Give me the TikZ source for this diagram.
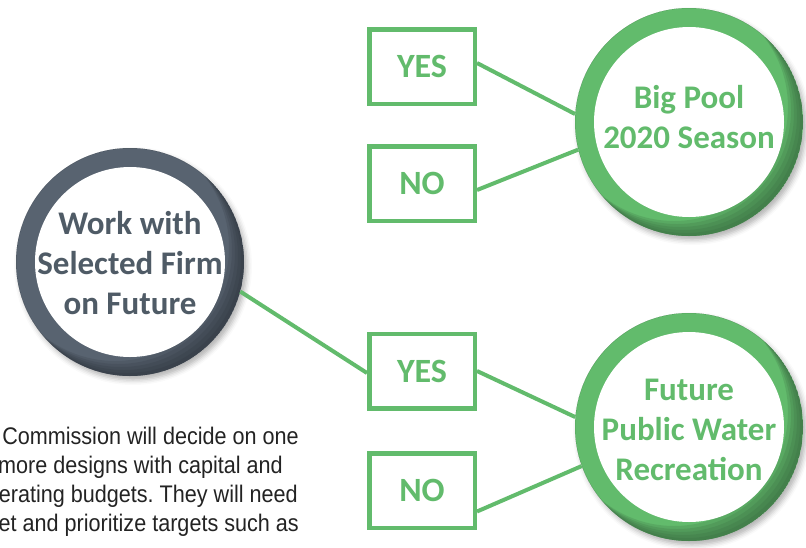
\documentclass[tikz,border=0pt]{standalone}
\usepackage{fontspec}
\setmainfont{Carlito}
\newfontfamily\narrowfont[FakeStretch=0.9]{Liberation Sans}
\usetikzlibrary{shadows.blur}
\definecolor{grn}{RGB}{98,187,108}
\definecolor{grnd}{RGB}{55,100,62}
\definecolor{slate}{RGB}{88,99,112}
\definecolor{slated}{RGB}{40,46,54}
\definecolor{slatetxt}{RGB}{79,91,102}
\definecolor{bodytxt}{RGB}{35,35,35}
\tikzset{
  outerdisk/.style={circle, inner sep=0pt, minimum size=228pt, fill=#1,
    blur shadow={shadow xshift=3pt, shadow yshift=-4pt, shadow blur radius=5pt, shadow opacity=30}},
  innerdisk/.style={circle, inner sep=0pt, minimum size=190pt, fill=white},
  circtext/.style={align=center, text=#1, font=\bfseries\fontsize{33}{40}\selectfont},
  ansbox/.style={rectangle, draw=grn, line width=4.5pt, fill=white, minimum width=105.5pt,
    minimum height=74.5pt, text=grn, font=\bfseries\fontsize{34}{40}\selectfont},
  conn/.style={draw=grn, line width=4pt},
  bodyline/.style={anchor=base east, text=bodytxt, inner sep=0pt, font=\narrowfont\fontsize{24}{28}\selectfont\frenchspacing}
}
\begin{document}
\begin{tikzpicture}[x=1pt,y=-1pt]
\useasboundingbox (0,0) rectangle (806,547);
\clip (0,0) rectangle (806,547);
% outer disks
\node[outerdisk=slate] (work) at (130,262) {};
\node[outerdisk=grn] (pool) at (689,122) {};
\node[outerdisk=grn] (rec) at (689,427) {};
% darkening at lower right of rings
\foreach \nm/\dc/\op in {work/slated/0.16, pool/grnd/0.2, rec/grnd/0.2}{
  \begin{scope}
    \clip (\nm.center) circle (114);
    \foreach \k in {3,6,9,12,15}{
      \fill[\dc, opacity=\op, even odd rule] (\nm.center) circle (114)
        ([xshift=-\k pt, yshift=\k pt]\nm.center) circle (114);
    }
  \end{scope}
}
% inner white disks
\node[innerdisk] (workin) at (work) {};
\node[innerdisk] (poolin) at (pool) {};
\node[innerdisk] (recin) at (rec) {};
% answer boxes (placed first to define anchors)
\node[ansbox] (yes1) at (422,66.5) {YES};
\node[ansbox] (no1) at (422,183.5) {NO};
\node[ansbox] (yes2) at (422,371) {YES};
\node[ansbox] (no2) at (422,490.5) {NO};
% connectors
\draw[conn] ([yshift=3.5pt]yes1.east) -- (pool.176);
\draw[conn] ([yshift=-6.5pt]no1.east) -- (pool.194);
\draw[conn] (work.-15) -- ([yshift=-2pt]yes2.west);
\draw[conn] (yes2.east) -- (rec.175);
\draw[conn] ([yshift=-21pt]no2.east) -- (rec.200);
% redraw boxes over connector ends
\node[ansbox] (yes1f) at (yes1) {YES};
\node[ansbox] (no1f) at (no1) {NO};
\node[ansbox] (yes2f) at (yes2) {YES};
\node[ansbox] (no2f) at (no2) {NO};
% circle texts
\node[circtext=slatetxt] (worktxt) at (130,263) {Work with\\Selected Firm\\on Future};
\node[circtext=grn] (pooltxt) at (689,117) {Big Pool\\2020 Season};
\node[circtext=grn] (rectxt) at (689,430) {Future\\Public Water\\Recreation};
% body text
\node[bodyline] (l1) at (299,444) {Commission will decide on one};
\node[bodyline] (l2) at (283,473) {more designs with capital and};
\node[bodyline] (l3) at (298,502) {erating budgets. They will need};
\node[bodyline] (l4) at (299,531) {et and prioritize targets such as};
\end{tikzpicture}
\end{document}
